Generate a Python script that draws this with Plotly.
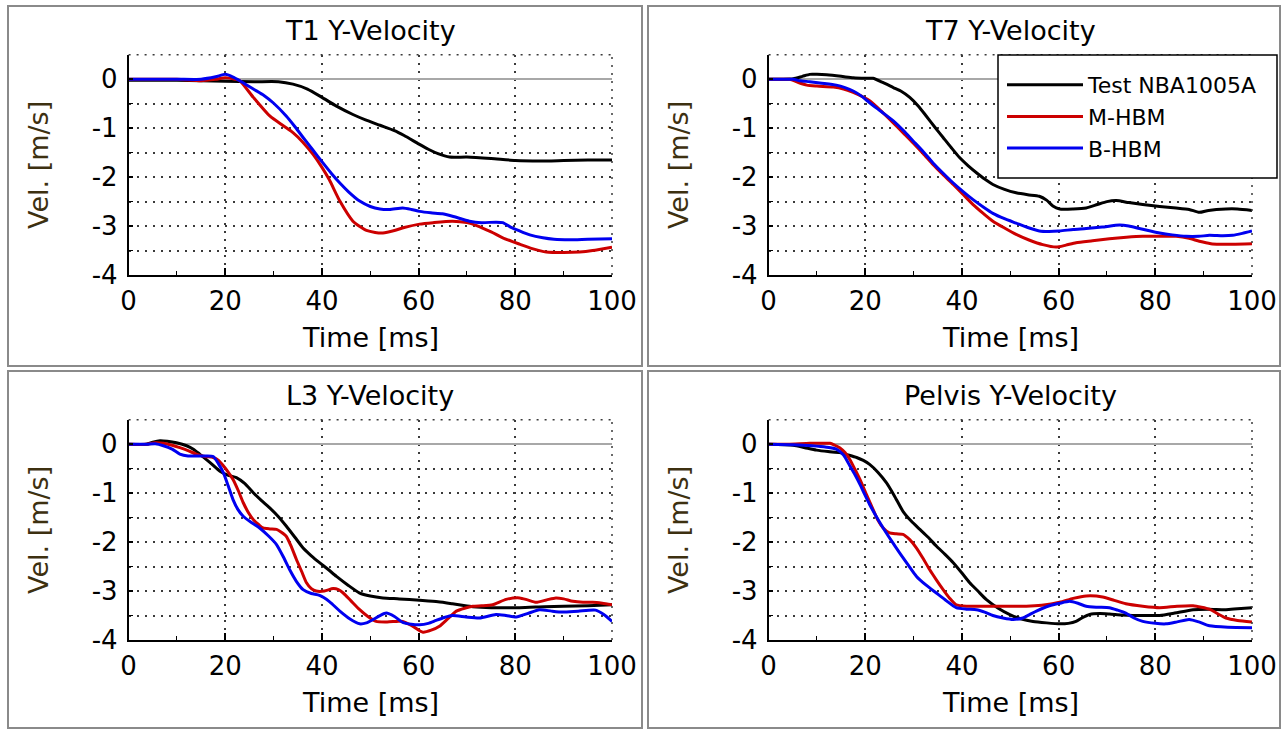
import plotly.graph_objects as go

# ---------------- data ----------------
SERIES = ["Test NBA1005A", "M-HBM", "B-HBM"]
PANEL_TITLES = ["T1 Y-Velocity", "T7 Y-Velocity", "L3 Y-Velocity", "Pelvis Y-Velocity"]
X_TITLE = "Time [ms]"
Y_TITLE = "Vel. [m/s]"
X_TICKS = [0, 20, 40, 60, 80, 100]
Y_TICKS = [0, -1, -2, -3, -4]

# T1
t1_test_t = [0, 10, 20, 26, 31, 34, 37, 40, 43, 46.4, 49, 52, 55, 57, 60, 62, 64, 66.4, 70, 75, 80, 85, 90, 95, 100]
t1_test_v = [-0.02, -0.02, -0.04, -0.05, -0.05, -0.1, -0.2, -0.37, -0.55, -0.72, -0.83, -0.94, -1.05, -1.15, -1.32, -1.43, -1.52, -1.59, -1.59, -1.62, -1.66, -1.67, -1.66, -1.65, -1.65]
t1_m_t = [0, 10, 15, 18, 20, 22, 23, 25.8, 29.2, 32, 34, 36, 38.2, 40, 41.5, 43.7, 46.4, 48, 49.2, 51, 52.6, 55, 57, 60.2, 63, 67, 70, 72, 75, 77.4, 80.9, 83.5, 86.4, 90, 93.3, 96, 100]
t1_m_v = [0, 0, -0.03, 0, 0.03, 0.0, -0.03, -0.37, -0.75, -0.95, -1.09, -1.28, -1.54, -1.8, -2.05, -2.49, -2.9, -3.02, -3.09, -3.13, -3.14, -3.09, -3.03, -2.96, -2.93, -2.9, -2.93, -2.99, -3.12, -3.24, -3.37, -3.46, -3.53, -3.54, -3.53, -3.5, -3.43]
t1_b_t = [0, 10, 15, 18, 20, 21.5, 23, 25.8, 28, 29.9, 32.6, 34.5, 36.1, 38, 40.2, 42, 43.7, 45.5, 47.8, 50, 52, 54, 56.7, 58.5, 60.2, 62.5, 64.9, 67, 70.5, 73, 76, 77.4, 79, 80.9, 83, 85.7, 88, 91.2, 95, 100]
t1_b_v = [0, 0, 0, 0.05, 0.1, 0.05, -0.03, -0.2, -0.33, -0.48, -0.75, -0.98, -1.19, -1.43, -1.71, -1.93, -2.12, -2.3, -2.49, -2.6, -2.65, -2.66, -2.63, -2.66, -2.7, -2.73, -2.75, -2.8, -2.9, -2.93, -2.92, -2.93, -3.02, -3.1, -3.18, -3.24, -3.27, -3.28, -3.27, -3.26]

# T7
t7_test_t = [0, 3, 5.1, 7, 8.5, 10, 12, 15, 17.5, 20, 21.6, 23.5, 25.8, 27.5, 29.2, 31, 32.6, 34.4, 36.1, 37.8, 39.5, 41.3, 43, 44.7, 46.4, 48.8, 51.2, 53.6, 56, 57.5, 58.8, 60.2, 63, 65.7, 68, 70, 71.9, 74.5, 77.4, 80.9, 84.3, 87, 89.1, 91, 94.6, 97, 100]
t7_test_v = [0, 0, 0.01, 0.06, 0.1, 0.1, 0.09, 0.06, 0.03, 0.02, 0.02, -0.06, -0.17, -0.25, -0.37, -0.55, -0.75, -0.98, -1.19, -1.4, -1.6, -1.77, -1.91, -2.04, -2.15, -2.25, -2.32, -2.36, -2.39, -2.47, -2.59, -2.65, -2.65, -2.63, -2.56, -2.5, -2.48, -2.52, -2.56, -2.6, -2.63, -2.66, -2.72, -2.68, -2.65, -2.65, -2.68]
t7_m_t = [0, 3, 4.4, 6, 7.9, 10, 13.4, 15.5, 17.5, 19.3, 20.9, 23.3, 25.8, 27.9, 29.9, 32, 34, 36, 38.2, 40.3, 42.3, 44.4, 46.4, 48.8, 51.2, 54, 56.7, 59.5, 61.5, 63.6, 67, 70.5, 74, 77.4, 81, 84.3, 87, 89.1, 91.5, 93.3, 96, 100]
t7_m_v = [0, 0, 0, -0.06, -0.12, -0.14, -0.16, -0.2, -0.27, -0.35, -0.44, -0.65, -0.89, -1.1, -1.3, -1.52, -1.74, -1.94, -2.15, -2.36, -2.56, -2.74, -2.9, -3.04, -3.17, -3.29, -3.38, -3.43, -3.39, -3.34, -3.3, -3.26, -3.23, -3.21, -3.21, -3.21, -3.25, -3.31, -3.36, -3.37, -3.37, -3.36]
t7_b_t = [0, 3, 5.1, 6.5, 8.5, 11, 14, 15.8, 17.5, 19.3, 20.9, 23.3, 25.8, 27.9, 29.9, 32, 34, 36, 38.2, 40.3, 42.3, 44.4, 46.4, 48.8, 51.2, 53.6, 56, 58, 60.2, 63, 65.7, 69, 72.6, 74.5, 76.7, 79, 80.9, 83.5, 86.4, 89, 91.2, 94, 96, 98, 100]
t7_b_v = [0, 0, 0, -0.03, -0.05, -0.08, -0.12, -0.17, -0.24, -0.35, -0.48, -0.66, -0.85, -1.05, -1.26, -1.48, -1.71, -1.91, -2.12, -2.3, -2.46, -2.61, -2.74, -2.85, -2.94, -3.03, -3.1, -3.11, -3.1, -3.07, -3.05, -3.02, -2.98, -3.0, -3.05, -3.1, -3.14, -3.18, -3.21, -3.21, -3.19, -3.2, -3.19, -3.15, -3.1]

# L3
l3_test_t = [0, 3.7, 5, 6.5, 8, 9.9, 12, 13.4, 14.7, 16.8, 18.9, 20.5, 22.3, 24, 25.8, 27.5, 29.2, 31, 32.6, 34.4, 36.1, 37.8, 39.5, 41.3, 43, 45.4, 47.8, 50, 52.6, 56, 60.2, 64, 67, 69, 71.2, 75, 80.9, 86, 90, 95, 100]
l3_test_v = [0, 0, 0.04, 0.07, 0.06, 0.03, -0.03, -0.1, -0.2, -0.37, -0.55, -0.63, -0.68, -0.8, -0.99, -1.15, -1.3, -1.48, -1.67, -1.9, -2.12, -2.28, -2.42, -2.56, -2.7, -2.88, -3.04, -3.1, -3.14, -3.16, -3.19, -3.22, -3.26, -3.29, -3.32, -3.34, -3.34, -3.32, -3.31, -3.3, -3.28]
l3_m_t = [0, 3.7, 5.5, 7.2, 9, 10.6, 12.3, 14, 15.8, 17.5, 18.6, 19.6, 20.6, 21.6, 22.7, 23.7, 24.8, 25.8, 27, 27.8, 29.2, 30.6, 31.6, 32.6, 33.7, 34.7, 35.8, 36.8, 37.8, 38.8, 40.5, 42.3, 43.4, 44.4, 46, 47.8, 49.5, 51.2, 53.5, 55.5, 56.7, 58.5, 60.9, 62.6, 64.3, 66, 67.8, 69.5, 71.2, 73, 75.3, 78.1, 80.9, 82.5, 84.3, 86.5, 88.4, 90, 91.9, 94, 96, 98, 100]
l3_m_v = [0, 0, 0.03, 0.02, -0.02, -0.07, -0.13, -0.2, -0.25, -0.27, -0.33, -0.44, -0.57, -0.72, -0.95, -1.19, -1.4, -1.54, -1.65, -1.71, -1.73, -1.74, -1.8, -1.88, -2.1, -2.35, -2.6, -2.83, -2.95, -3.0, -3.0, -2.95, -2.97, -3.04, -3.2, -3.38, -3.52, -3.62, -3.63, -3.62, -3.62, -3.7, -3.84, -3.8, -3.72, -3.57, -3.41, -3.35, -3.31, -3.3, -3.28, -3.17, -3.14, -3.18, -3.23, -3.18, -3.14, -3.16, -3.21, -3.23, -3.23, -3.25, -3.28]
l3_b_t = [0, 3.7, 5.5, 7.2, 9, 10.6, 12.3, 14, 15.8, 17.5, 18.6, 19.6, 20.6, 21.6, 22.6, 23.7, 25.4, 27.1, 28.9, 30.6, 32, 33.3, 34.7, 36.1, 37.8, 39.5, 41.6, 43.7, 45.8, 47.8, 49.2, 50.6, 52, 53.3, 55, 56.7, 58.5, 60.2, 62, 63.6, 65.3, 67, 69.8, 72.6, 76, 78.1, 80.2, 82.5, 85, 87.5, 89.8, 93, 96.6, 98.3, 100]
l3_b_v = [0, 0, 0.01, -0.03, -0.1, -0.2, -0.24, -0.24, -0.24, -0.25, -0.4, -0.58, -0.85, -1.13, -1.33, -1.47, -1.6, -1.71, -1.87, -2.05, -2.3, -2.56, -2.8, -2.97, -3.05, -3.09, -3.22, -3.41, -3.57, -3.67, -3.65, -3.58, -3.5, -3.45, -3.52, -3.64, -3.68, -3.69, -3.66, -3.6, -3.54, -3.5, -3.53, -3.55, -3.48, -3.5, -3.53, -3.46, -3.38, -3.41, -3.43, -3.41, -3.39, -3.48, -3.62]

# Pelvis
pv_test_t = [0, 5.1, 7.5, 9.9, 12.3, 14.7, 16.5, 18.2, 19.6, 20.9, 22.6, 24.4, 26, 27.8, 29.5, 31.3, 33, 34.7, 36.5, 38.2, 39.9, 41.6, 43.3, 45, 47.5, 49.9, 52.3, 54.7, 57.5, 60.2, 62, 63.6, 65, 66.4, 68.5, 70.5, 73, 75.3, 78, 80.9, 84, 87.8, 91, 94.6, 97, 100]
pv_test_v = [0, -0.02, -0.07, -0.12, -0.15, -0.17, -0.22, -0.27, -0.33, -0.41, -0.57, -0.79, -1.05, -1.37, -1.57, -1.74, -1.9, -2.08, -2.25, -2.42, -2.62, -2.83, -3.0, -3.17, -3.35, -3.48, -3.57, -3.62, -3.65, -3.67, -3.66, -3.62, -3.54, -3.48, -3.46, -3.47, -3.49, -3.5, -3.5, -3.5, -3.45, -3.38, -3.37, -3.38, -3.36, -3.34]
pv_m_t = [0, 4, 8.5, 10.6, 12.7, 13.7, 14.7, 15.8, 16.8, 17.8, 18.9, 20.2, 21.6, 22.6, 23.7, 25, 26.4, 27.8, 29.2, 30.6, 32, 33.3, 34.7, 36.1, 37.4, 38.8, 40.9, 43.5, 46.4, 50, 53.3, 56.5, 60.2, 63, 65.7, 69.1, 71.5, 73.9, 77.4, 80.9, 84.5, 87.8, 91.2, 93, 94.6, 97, 100]
pv_m_v = [0, 0, 0.02, 0.02, 0.02, -0.02, -0.07, -0.17, -0.31, -0.5, -0.72, -1.02, -1.33, -1.55, -1.71, -1.81, -1.83, -1.84, -1.95, -2.12, -2.34, -2.56, -2.77, -2.97, -3.14, -3.28, -3.31, -3.31, -3.31, -3.31, -3.31, -3.29, -3.23, -3.15, -3.1, -3.12, -3.19, -3.26, -3.31, -3.34, -3.31, -3.3, -3.37, -3.47, -3.55, -3.6, -3.63]
pv_b_t = [0, 5, 9, 12, 14, 15.5, 16.8, 17.9, 18.9, 19.9, 20.9, 22.3, 23.7, 25.4, 27.1, 28.9, 30.6, 32.6, 34.7, 36.8, 38.8, 40.9, 43, 44.7, 46.4, 48.5, 50.6, 52.6, 54, 55.4, 58.1, 60.2, 62.3, 64, 65.7, 68, 70.5, 72.2, 73.9, 75.6, 77.4, 80, 82.2, 84.5, 87, 89, 91.2, 95, 100]
pv_b_v = [0, -0.01, -0.03, -0.06, -0.1, -0.22, -0.44, -0.63, -0.82, -1.03, -1.23, -1.48, -1.71, -1.97, -2.22, -2.47, -2.7, -2.88, -3.04, -3.2, -3.34, -3.37, -3.38, -3.43, -3.5, -3.55, -3.58, -3.55, -3.48, -3.41, -3.3, -3.25, -3.21, -3.25, -3.31, -3.33, -3.34, -3.39, -3.45, -3.55, -3.62, -3.66, -3.67, -3.63, -3.58, -3.63, -3.71, -3.74, -3.75]

# ---------------- styling ----------------
FONT = "DejaVu Sans"
COLORS = ["#000000", "#cc0000", "#0000f0"]
W, H = 1281, 729

panels = [
    (PANEL_TITLES[0], [(t1_test_t, t1_test_v), (t1_m_t, t1_m_v), (t1_b_t, t1_b_v)]),
    (PANEL_TITLES[1], [(t7_test_t, t7_test_v), (t7_m_t, t7_m_v), (t7_b_t, t7_b_v)]),
    (PANEL_TITLES[2], [(l3_test_t, l3_test_v), (l3_m_t, l3_m_v), (l3_b_t, l3_b_v)]),
    (PANEL_TITLES[3], [(pv_test_t, pv_test_v), (pv_m_t, pv_m_v), (pv_b_t, pv_b_v)]),
]

# plot-area pixel boxes (left, right, top, bottom)
px_boxes = [
    (128.6, 612.0, 54.8, 275.0),
    (768.6, 1252.0, 54.8, 275.0),
    (128.6, 612.0, 419.8, 640.0),
    (768.6, 1252.0, 419.8, 640.0),
]
# panel frame pixel boxes (left, right, top, bottom)
frame_boxes = [
    (8, 642, 6, 366),
    (648, 1280, 6, 366),
    (8, 642, 371, 728),
    (648, 1280, 371, 728),
]
# legend frame pixel box (left, right, top, bottom)
legend_box = (998, 1277, 55, 178)

fig = go.Figure()
layout = dict(
    width=W, height=H,
    margin=dict(l=0, r=0, t=0, b=0),
    paper_bgcolor="white", plot_bgcolor="white",
    font=dict(family=FONT, color="black"),
    showlegend=True,
    legend=dict(
        x=1002 / W, y=1 - 64 / H, xanchor="left", yanchor="top",
        bgcolor="rgba(0,0,0,0)", borderwidth=0,
        font=dict(family=FONT, size=22, color="black"),
        itemwidth=76, tracegroupgap=0,
    ),
)

grid_style = dict(gridcolor="#3a3a3a", griddash="2px,6px", gridwidth=1.5)
shapes = []
annotations = []

for i, (title, series) in enumerate(panels):
    n = "" if i == 0 else str(i + 1)
    l, r, t, b = px_boxes[i]
    xd = [l / W, r / W]
    yd = [1 - b / H, 1 - t / H]
    for k, (tx, vy) in enumerate(series):
        fig.add_trace(go.Scatter(
            x=tx, y=vy, mode="lines", name=SERIES[k],
            line=dict(color=COLORS[k], width=3, shape="spline", smoothing=0.6),
            xaxis="x" + n, yaxis="y" + n,
            showlegend=(i == 1), legendgroup=SERIES[k],
        ))
    layout["xaxis" + n] = dict(
        domain=xd, anchor="y" + n, range=[0, 100],
        tickmode="array", tickvals=X_TICKS, ticktext=[str(v) for v in X_TICKS],
        ticks="inside", ticklen=7, tickwidth=1.5, tickcolor="black",
        showline=True, linecolor="black", linewidth=1.5,
        showgrid=True, zeroline=False, **grid_style,
        minor=dict(dtick=10, tick0=0, ticks="inside", ticklen=4, tickcolor="black", tickwidth=1, showgrid=False),
        tickfont=dict(family=FONT, size=26, color="black"),
        ticklabelstandoff=2,
        automargin=False, fixedrange=True,
    )
    layout["yaxis" + n] = dict(
        domain=yd, anchor="x" + n, range=[-4, 0.5],
        tickmode="array", tickvals=Y_TICKS, ticktext=[str(v) for v in Y_TICKS],
        ticks="inside", ticklen=5, tickwidth=1.5, tickcolor="black",
        showline=True, linecolor="black", linewidth=1.5,
        showgrid=True, **grid_style,
        zeroline=True, zerolinecolor="#a8a8a8", zerolinewidth=1.5,
        minor=dict(dtick=0.5, tick0=0, ticks="inside", ticklen=5, tickcolor="black", tickwidth=1,
                   showgrid=True, **grid_style),
        tickfont=dict(family=FONT, size=26, color="black"),
        ticklabelstandoff=4,
        title=dict(text=Y_TITLE, font=dict(family=FONT, size=27, color="#3d3010"), standoff=35),
        automargin=False, fixedrange=True,
    )
    # dotted top and right plot edges
    shapes.append(dict(type="line", xref="x" + n + " domain", yref="y" + n + " domain",
                       x0=0, x1=1, y0=1, y1=1, line=dict(color="#3a3a3a", width=1.5, dash="2px,6px")))
    shapes.append(dict(type="line", xref="x" + n + " domain", yref="y" + n + " domain",
                       x0=1, x1=1, y0=0, y1=1, line=dict(color="#3a3a3a", width=1.5, dash="2px,6px")))
    # panel frame
    fl, fr, ft, fb = frame_boxes[i]
    shapes.append(dict(type="rect", xref="paper", yref="paper",
                       x0=fl / W, x1=fr / W, y0=1 - fb / H, y1=1 - ft / H,
                       line=dict(color="#8a8a8a", width=2), fillcolor="rgba(0,0,0,0)", layer="below"))
    # panel title
    annotations.append(dict(text=title, xref="paper", yref="paper",
                            x=(l + r) / 2 / W, y=1 - (t - 24) / H, xanchor="center", yanchor="middle",
                            showarrow=False, font=dict(family=FONT, size=27, color="black")))
    # x-axis title
    annotations.append(dict(text=X_TITLE, xref="paper", yref="paper",
                            x=(l + r) / 2 / W, y=1 - (b + 62) / H, xanchor="center", yanchor="middle",
                            showarrow=False, font=dict(family=FONT, size=27, color="black")))

# legend frame (white box behind legend entries)
ll, lr, lt, lb = legend_box
shapes.append(dict(type="rect", xref="paper", yref="paper",
                   x0=ll / W, x1=lr / W, y0=1 - lb / H, y1=1 - lt / H,
                   line=dict(color="black", width=1.5), fillcolor="white", layer="above"))

layout["shapes"] = shapes
layout["annotations"] = annotations
fig.update_layout(**layout)
fig.write_html("out.html", config={"displayModeBar": False},
               post_script="document.body.style.margin='0';")
